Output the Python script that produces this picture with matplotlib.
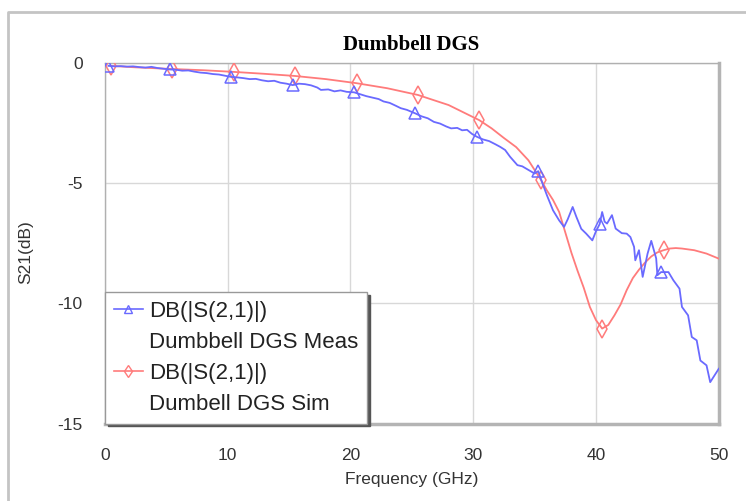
import matplotlib
matplotlib.use("Agg")
import matplotlib.pyplot as plt
from matplotlib.lines import Line2D

meas_freq = [0.3, 0.8, 1.3, 1.8, 2.3, 2.8, 3.3, 3.8, 4.3, 4.8,
             5.3, 5.8, 6.3, 6.8, 7.3, 7.8, 8.3, 8.8, 9.3, 9.8,
             10.3, 10.8, 11.3, 11.8, 12.3, 12.8, 13.3, 13.8, 14.3, 14.8,
             15.3, 15.8, 16.3, 16.8, 17.3, 17.6, 18.2, 18.7, 19.2, 19.7,
             20.3, 20.8, 21.3, 21.8, 22.3, 22.7, 23.2, 23.7, 24.1, 24.6,
             25.3, 25.8, 26.3, 26.8, 27.3, 27.8, 28.2, 28.7, 29.1, 29.5, 29.9,
             30.3, 30.8, 31.3, 31.8, 32.2, 32.6, 33.0, 33.6, 34.0, 34.5, 35.0,
             35.3, 35.6, 36.0, 36.5, 37.0, 37.4, 37.7, 38.1, 38.4, 38.8, 39.2, 39.7,
             40.0, 40.3, 40.5, 40.7, 40.9, 41.3, 41.6, 42.1, 42.5, 42.8,
             43.1, 43.2, 43.5, 43.8, 44.2, 44.5, 44.9, 45.0,
             45.3, 45.9, 46.3, 46.8, 47.0, 47.5, 47.8, 48.2, 48.5, 49.0, 49.3, 50.0]
meas_db = [-0.12, -0.14, -0.13, -0.15, -0.14, -0.17, -0.19, -0.16, -0.21, -0.24,
           -0.27, -0.28, -0.32, -0.31, -0.36, -0.40, -0.42, -0.46, -0.48, -0.53,
           -0.58, -0.60, -0.63, -0.67, -0.66, -0.72, -0.76, -0.74, -0.82, -0.86,
           -0.92, -0.86, -0.88, -0.93, -1.02, -1.12, -1.10, -1.18, -1.14, -1.20,
           -1.22, -1.30, -1.38, -1.44, -1.50, -1.60, -1.66, -1.78, -1.88, -1.95,
           -2.10, -2.22, -2.30, -2.45, -2.52, -2.64, -2.72, -2.70, -2.80, -2.78, -2.95,
           -3.07, -3.18, -3.25, -3.38, -3.49, -3.62, -3.90, -4.25, -4.30, -4.45, -4.60,
           -4.50, -4.95, -5.50, -6.13, -6.55, -6.82, -6.50, -5.99, -6.40, -6.90, -7.10, -7.38,
           -7.00, -6.70, -6.20, -6.60, -6.68, -6.33, -6.89, -7.08, -7.10, -7.24,
           -7.65, -8.21, -7.79, -8.90, -7.93, -7.40, -8.13, -8.83,
           -8.70, -8.70, -9.04, -9.39, -10.15, -10.50, -11.40, -11.54, -12.38, -12.58, -13.28, -12.72]

# S21 simulated (red)
sim_freq = [0.5, 2.5, 5.5, 8.0, 10.5, 13.0, 15.5, 18.0, 20.5, 23.0, 25.5, 28.0,
            30.5, 31.5, 32.5, 33.5, 34.5, 35.5, 36.0, 36.5, 37.0, 37.5, 38.0, 38.5,
            39.0, 39.5, 40.0, 40.5, 41.0, 41.5, 42.0, 42.5, 43.0, 43.5, 44.0, 44.5,
            45.0, 45.5, 46.0, 46.5, 47.0, 48.0, 49.0, 50.0]
sim_db = [-0.12, -0.18, -0.25, -0.30, -0.37, -0.45, -0.54, -0.67, -0.84, -1.05, -1.33, -1.75,
          -2.38, -2.72, -3.12, -3.50, -4.05, -4.85, -5.30, -5.70, -6.20, -7.05, -7.90, -8.65,
          -9.35, -10.15, -10.70, -11.05, -10.90, -10.50, -10.05, -9.45, -8.95, -8.60, -8.30, -8.05,
          -7.88, -7.79, -7.72, -7.70, -7.72, -7.79, -7.93, -8.14]

meas_marker_freq = [0.3, 5.3, 10.3, 15.3, 20.3, 25.3, 30.3, 35.3, 40.3, 45.3]
sim_marker_freq = [0.5, 5.5, 10.5, 15.5, 20.5, 25.5, 30.5, 35.5, 40.5, 45.5]

label_line1 = "DB(|S(2,1)|)"
meas_name = "Dumbbell DGS Meas"
sim_name = "Dumbell DGS Sim"

blue = "#6a6aff"
red = "#ff7b7b"

plt.rcParams['font.family'] = ['Liberation Sans', 'DejaVu Sans']
plt.rcParams['axes.unicode_minus'] = False

fig = plt.figure(figsize=(7.46, 5.01), dpi=100)
ax = fig.add_axes([104.8 / 746, 1 - 423.5 / 501, 614 / 746, 360.5 / 501])

meas_idx = [meas_freq.index(f) for f in meas_marker_freq]
sim_idx = [sim_freq.index(f) for f in sim_marker_freq]

ax.plot(sim_freq, sim_db, color=red, lw=1.3, marker='d', markersize=9,
        markerfacecolor='none', markeredgecolor=red, mew=1.1, markevery=sim_idx, zorder=3)
ax.plot(meas_freq, meas_db, color=blue, lw=1.3, marker='^', markersize=8,
        markerfacecolor='none', markeredgecolor=blue, mew=1.1, markevery=meas_idx, zorder=4)

ax.set_xlim(0, 50)
ax.set_ylim(-15, 0)
ax.set_xticks([0, 10, 20, 30, 40, 50])
ax.set_yticks([0, -5, -10, -15])
ax.grid(True, color='#d8d8d8', lw=1)
ax.set_axisbelow(True)
ax.tick_params(length=0, labelsize=12.5, labelcolor='#333333')
ax.tick_params(axis='x', pad=18)
ax.tick_params(axis='y', pad=16)

for side in ['left', 'top']:
    ax.spines[side].set_color('#b0b0b0')
    ax.spines[side].set_linewidth(1)
for side in ['right', 'bottom']:
    ax.spines[side].set_color('#b4b4b4')
    ax.spines[side].set_linewidth(2.5)

ax.set_xlabel("Frequency (GHz)", fontsize=12.5, color='#333333', labelpad=6)
ax.set_ylabel("S21(dB)", fontsize=12.5, color='#333333')
ax.yaxis.set_label_coords(-0.117, 0.474)

fig.text(411 / 746, 1 - 45 / 501, "Dumbbell DGS", ha='center', va='center',
         family='Liberation Serif', fontweight='bold', fontsize=15)

# legend: handle next to the first text line of each entry
h_meas = Line2D([], [], color=blue, lw=1.2, marker='^', markersize=6,
                markerfacecolor='none', markeredgecolor=blue)
h_sim = Line2D([], [], color=red, lw=1.2, marker='d', markersize=6,
               markerfacecolor='none', markeredgecolor=red)
h_blank = Line2D([], [], linestyle='none', marker='none')
leg = ax.legend([h_meas, h_blank, h_sim, h_blank],
                [label_line1, meas_name, label_line1, sim_name],
                loc='lower left', bbox_to_anchor=(0.0, 0.0), borderaxespad=0.0,
                fontsize=16, handlelength=1.3, handletextpad=0.3, labelspacing=0.45,
                borderpad=0.4, fancybox=False, shadow={'color': '#555555', 'alpha': 1},
                framealpha=1, edgecolor='#999999')
leg.get_frame().set_linewidth(1)
for t in leg.get_texts():
    t.set_color('#222222')

# outer frame of the exported picture
fig.add_artist(Line2D([8 / 746, 8 / 746, 1], [0, 1 - 12 / 501, 1 - 12 / 501],
                      transform=fig.transFigure, color='#c4c4c4', lw=2))

fig.savefig("out.png", dpi=100)
